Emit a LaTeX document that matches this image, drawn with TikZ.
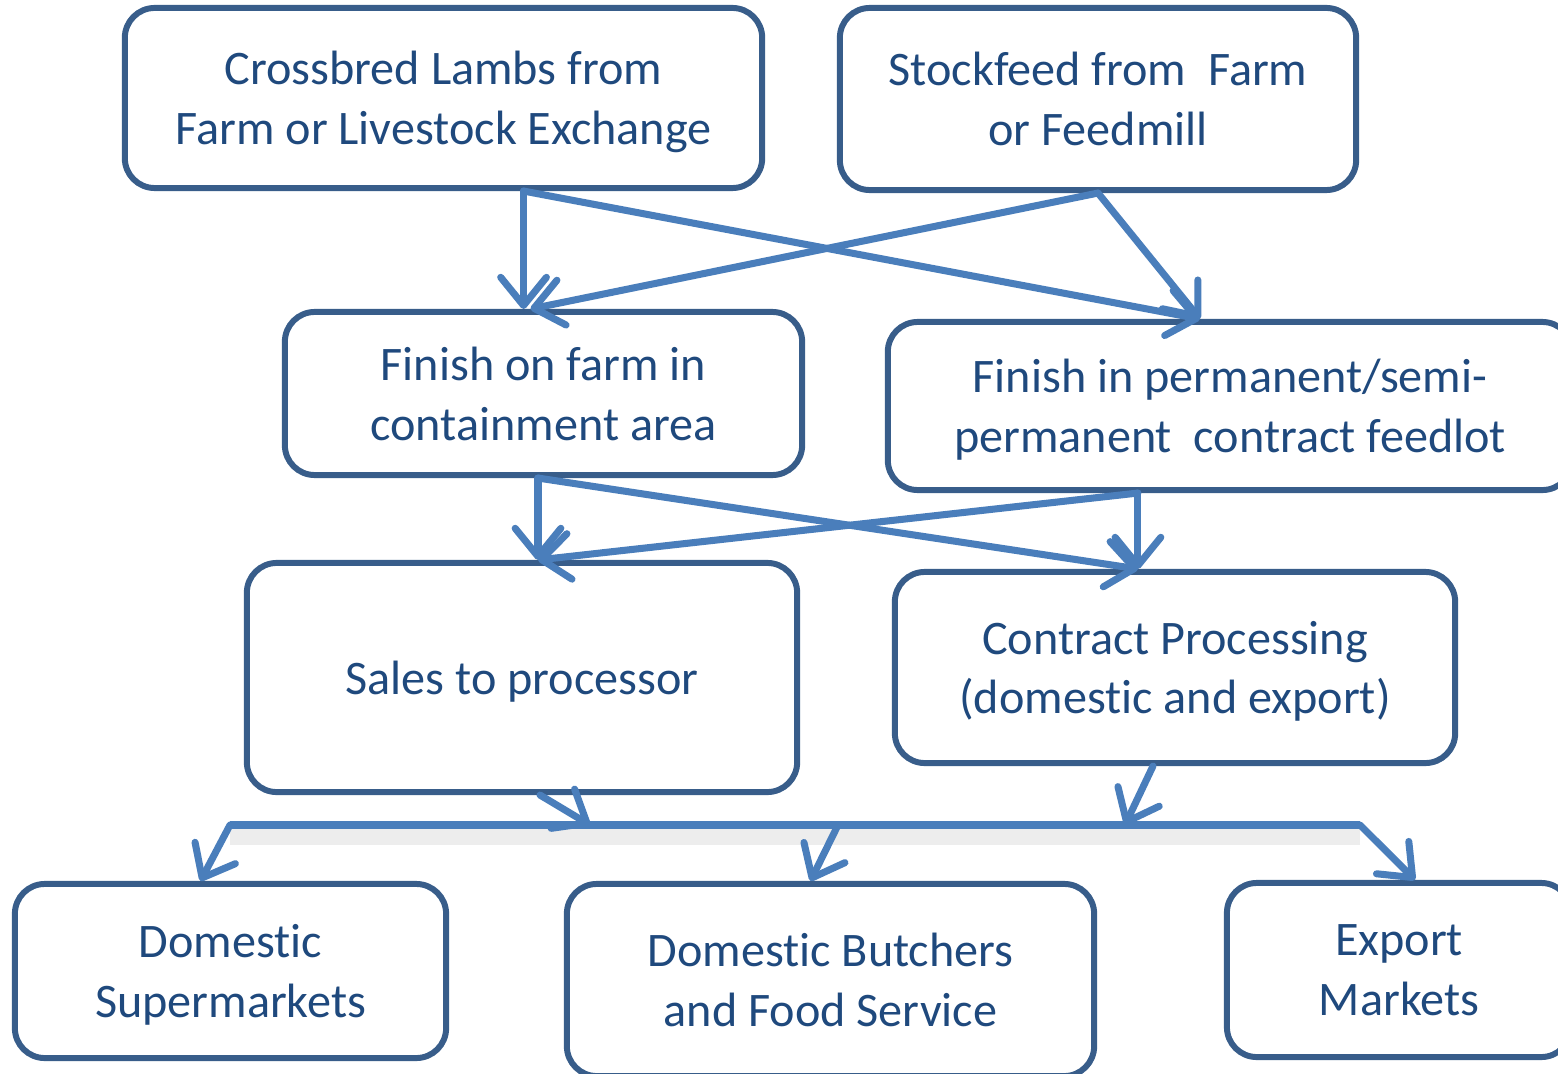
\documentclass[tikz,border=0pt]{standalone}
\usepackage{fontspec}
\setmainfont{Carlito}[RawFeature={-liga;-clig;-calt}]
\usetikzlibrary{arrows.meta, positioning, calc}
\definecolor{boxblue}{RGB}{56,93,138}
\definecolor{arrowblue}{RGB}{74,126,187}
\definecolor{textblue}{RGB}{31,73,125}

\tikzset{
  chainbox/.style={draw=boxblue, line width=1.7pt, rounded corners=8.5pt, align=center,
    text=textblue, font=\fontsize{13.7}{17}\selectfont, inner sep=0pt, text depth=0pt},
  flow/.style={draw=arrowblue, line width=2pt, line cap=round,
    -{Straight Barb[length=8pt,width=13pt,round]}}
}

\begin{document}
\begin{tikzpicture}[x=0.01cm, y=-0.01cm]
\clip (0,0) rectangle (1558,1073);

% sources
\node[chainbox, minimum width=6.37cm, minimum height=1.8cm] (lambs) at (443.5,98) {Crossbred Lambs from\\Farm or Livestock Exchange};
\node[chainbox, minimum width=5.16cm, minimum height=1.82cm] (stock) at (1098,99) {Stockfeed from~ Farm\\or Feedmill};

% finishing
\node[chainbox, minimum width=5.17cm, minimum height=1.63cm] (farm) at (543.5,393.5) {Finish on farm in\\containment area};
\node[chainbox, minimum width=6.84cm, minimum height=1.68cm] (feedlot) at (1230,406) {Finish in permanent/semi-\\permanent~ contract feedlot};

% processing
\node[chainbox, minimum width=5.5cm, minimum height=2.29cm] (sales) at (522,677.5) {Sales to processor};
\node[chainbox, minimum width=5.6cm, minimum height=1.91cm] (contract) at (1175,667.5) {Contract Processing\\(domestic and export)};

% markets
\node[chainbox, minimum width=4.31cm, minimum height=1.74cm] (super) at (230.5,971) {Domestic\\Supermarkets};
\node[chainbox, minimum width=5.27cm, minimum height=1.92cm] (butch) at (830.5,980) {Domestic Butchers\\and Food Service};
\node[chainbox, minimum width=3.44cm, minimum height=1.74cm] (export) at (1399,970) {Export\\Markets};

\coordinate (lsplit) at ([xshift=0.8cm]lambs.south);
\coordinate (fsplit) at ([xshift=-0.055cm]farm.south);
\coordinate (psplit) at ([xshift=-0.92cm]feedlot.south);
\coordinate (barL) at (230,825);
\coordinate (barM) at (838,825);
\coordinate (barR) at (1360,825);
\coordinate (in1) at (590,825);
\coordinate (in2) at (1125,825);

\draw[flow] (lsplit) -- (lsplit |- farm.north);
\draw[flow] (lsplit) -- ([xshift=-0.3cm]feedlot.north);
\draw[flow] (stock.south) -- ([xshift=-0.13cm]farm.north);
\draw[flow] (stock.south) -- ([xshift=-0.3cm]feedlot.north);

\draw[flow] (fsplit) -- (fsplit |- sales.north);
\draw[flow] (fsplit) -- ([xshift=-0.37cm]contract.north);
\draw[flow] (psplit) -- ([xshift=0.16cm]sales.north);
\draw[flow] (psplit) -- (psplit |- contract.north);

\draw[black!7, line width=5pt] ([yshift=-0.11cm]barL) -- ([yshift=-0.11cm]barR);
\draw[draw=arrowblue, line width=2pt] (barL) -- (barR);
\draw[flow] ([xshift=0.18cm]sales.south) -- (in1);
\draw[flow] ([xshift=-0.22cm]contract.south) -- (in2);

\draw[flow] (barL) -- ([xshift=-0.3cm]super.north);
\draw[flow] (barM) -- ([xshift=-0.2cm]butch.north);
\draw[flow] (barR) -- ([xshift=0.16cm]export.north);
\end{tikzpicture}
\end{document}
